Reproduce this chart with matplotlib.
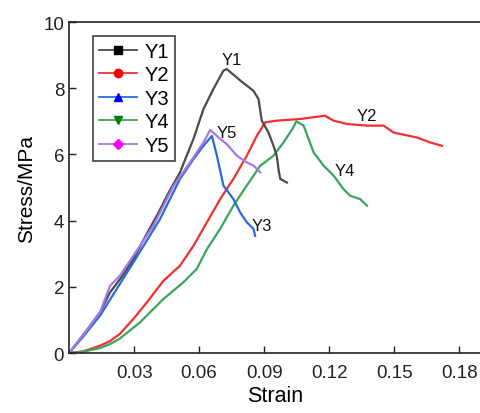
import matplotlib
matplotlib.use("Agg")
import matplotlib.pyplot as plt
from matplotlib.lines import Line2D

plt.rcParams['font.family'] = ['Liberation Sans', 'DejaVu Sans']

y1_x = [0, 0.0066, 0.0143, 0.0189, 0.0243, 0.0297, 0.035, 0.0405, 0.046, 0.0512, 0.0574, 0.062, 0.0666, 0.0712, 0.0727,
        0.0794, 0.0851, 0.0874, 0.0889, 0.092, 0.0943, 0.0958, 0.0966, 0.0974, 0.1005]
y1_y = [0, 0.55, 1.23, 1.83, 2.3, 2.84, 3.5, 4.15, 4.85, 5.46, 6.47, 7.37, 7.98, 8.53, 8.58,
        8.21, 7.92, 7.67, 7.02, 6.66, 6.26, 5.96, 5.56, 5.26, 5.15]

y2_x = [0, 0.0066, 0.0143, 0.0189, 0.0235, 0.0297, 0.0359, 0.0435, 0.0512, 0.0574, 0.0636, 0.0697, 0.0758,
        0.082, 0.0866, 0.0905, 0.0958, 0.1066, 0.118, 0.122, 0.1282, 0.1374, 0.1451,
        0.1497, 0.1605, 0.1666, 0.172]
y2_y = [0, 0.05, 0.22, 0.36, 0.58, 1.03, 1.53, 2.18, 2.64, 3.24, 3.95, 4.65, 5.26,
        5.96, 6.56, 6.97, 7.02, 7.07, 7.17, 7.02, 6.92, 6.87, 6.87,
        6.66, 6.51, 6.36, 6.26]

y3_x = [0, 0.0066, 0.0143, 0.0297, 0.042, 0.0512, 0.0574, 0.062, 0.0659,
        0.0682, 0.0712, 0.0758, 0.0789, 0.082, 0.0851, 0.0858]
y3_y = [0, 0.5, 1.13, 2.74, 4.05, 5.26, 5.86, 6.26, 6.56,
        5.96, 5.06, 4.65, 4.25, 3.95, 3.75, 3.54]

y4_x = [0, 0.0066, 0.0143, 0.0189, 0.0235, 0.0328, 0.0435, 0.0528, 0.0589, 0.0636, 0.0697, 0.0758, 0.082,
        0.0882, 0.0943, 0.0989, 0.1035, 0.1048, 0.1082, 0.1128, 0.1174, 0.122, 0.1266,
        0.1297, 0.1343, 0.1374]
y4_y = [0, 0.04, 0.15, 0.27, 0.44, 0.93, 1.63, 2.14, 2.54, 3.14, 3.75, 4.45, 5.06,
        5.66, 5.96, 6.36, 6.82, 7.0, 6.87, 6.06, 5.66, 5.36, 4.95,
        4.75, 4.65, 4.45]

y5_x = [0, 0.0066, 0.0143, 0.0189, 0.0235, 0.0297, 0.0389, 0.0482, 0.0558, 0.062, 0.0651,
        0.0697, 0.0728, 0.0774, 0.082, 0.0851, 0.0882]
y5_y = [0, 0.55, 1.23, 2.03, 2.34, 2.94, 3.85, 5.05, 5.76, 6.36, 6.74,
        6.47, 6.31, 5.96, 5.76, 5.66, 5.46]

names = ['Y1', 'Y2', 'Y3', 'Y4', 'Y5']
label_pos_x = [0.075, 0.1374, 0.0889, 0.1274, 0.0728]
label_pos_y = [8.86, 7.19, 3.85, 5.5, 6.66]

xticks = [0.03, 0.06, 0.09, 0.12, 0.15, 0.18]
yticks = [0, 2, 4, 6, 8, 10]

line_colors = ['#4a4a4a', '#f03030', '#2a6ad8', '#3aa55a', '#a878e0']
marker_colors = ['#000000', '#ff0000', '#0000ff', '#008000', '#ff00ff']
markers = ['s', 'o', '^', 'v', 'D']

fig = plt.figure(figsize=(4.81, 4.14), dpi=100)
ax = fig.add_axes([0.1435, 0.1449, 0.8565, 0.7995])

data = [(y1_x, y1_y), (y2_x, y2_y), (y3_x, y3_y), (y4_x, y4_y), (y5_x, y5_y)]
order = [1, 3, 0, 2, 4]
for i in order:
    xs, ys = data[i]
    ax.plot(xs, ys, color=line_colors[i], lw=1.6)

for i, n in enumerate(names):
    ax.text(label_pos_x[i], label_pos_y[i], n, fontsize=12, ha='center', va='center', color='#111111')

ax.set_xlim(0, 0.19)
ax.set_ylim(0, 10)
ax.set_xticks(xticks)
ax.set_xticklabels([f"{t:.2f}" for t in xticks])
ax.set_yticks(yticks)
ax.tick_params(direction='in', length=5, width=1, labelsize=13.5, colors='#222222')
ax.tick_params(axis='x', pad=8)
for s in ['left', 'bottom', 'top']:
    ax.spines[s].set_linewidth(1.2)
    ax.spines[s].set_color('#222222')
ax.spines['right'].set_visible(False)
ax.set_xlabel('Strain', fontsize=15.5, labelpad=3)
ax.set_ylabel('Stress/MPa', fontsize=15, labelpad=5)

handles = [Line2D([0], [0], color=line_colors[i], lw=1.3, marker=markers[i],
                  markerfacecolor=marker_colors[i], markeredgecolor=marker_colors[i],
                  markersize=6 if markers[i] != 'D' else 5) for i in range(5)]
leg = ax.legend(handles, names, loc='upper left', bbox_to_anchor=(0.058, 0.958),
                fontsize=14.5, frameon=True, fancybox=False, edgecolor='#111111',
                handlelength=1.9, handletextpad=0.35, borderpad=0.3, labelspacing=0.22,
                borderaxespad=0.0)
leg.get_frame().set_linewidth(1.2)

fig.savefig('out.png', dpi=100)
